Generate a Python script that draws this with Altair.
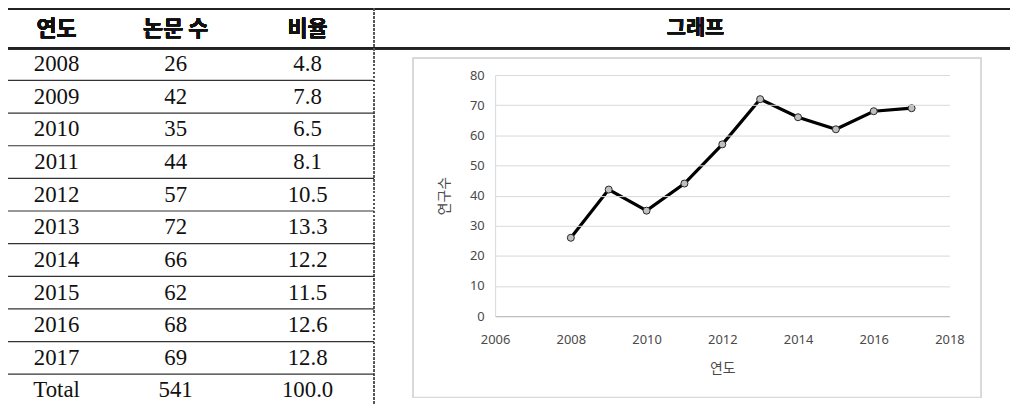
import altair as alt
import pandas as pd

# ---- data ----
years = [2008, 2009, 2010, 2011, 2012, 2013, 2014, 2015, 2016, 2017]
counts = [26, 42, 35, 44, 57, 72, 66, 62, 68, 69]
ratios = [4.8, 7.8, 6.5, 8.1, 10.5, 13.3, 12.2, 11.5, 12.6, 12.8]
total_label = "Total"
total_count = 541
total_ratio = 100.0
headers = ["연도", "논문 수", "비율"]
graph_header = "그래프"
x_ticks = [2006, 2008, 2010, 2012, 2014, 2016, 2018]
y_ticks = [0, 10, 20, 30, 40, 50, 60, 70, 80]

row_labels = [str(y) for y in years] + [total_label]
table = pd.DataFrame({
    "row": row_labels,
    "year_txt": row_labels,
    "count_txt": [str(c) for c in counts] + [str(total_count)],
    "ratio_txt": [f"{r:.1f}" for r in ratios] + [f"{total_ratio:.1f}"],
})
series = pd.DataFrame({"year": years, "count": counts})

# plot area sits at page (499, 74); everything else is relative to it
def px(x):
    return x - 499

def py(y):
    return y - 74

KR = "Noto Sans CJK KR"
SERIF = "Liberation Serif"

row_scale = alt.Scale(type="point", domain=row_labels, range=[py(63), py(392)], padding=0)

base_tab = alt.Chart(table)

# decorations
box = alt.Chart(series).mark_rect(filled=False, fillOpacity=0, stroke="#d9d9d9", strokeWidth=1).encode(
    x=alt.value(px(416)), x2=alt.value(px(989)), y=alt.value(py(57)), y2=alt.value(py(399))
)
top_line = alt.Chart(series).mark_rule(color="#222", strokeWidth=2).encode(
    x=alt.value(px(7)), x2=alt.value(px(1030)), y=alt.value(py(7))
)
head_line = alt.Chart(series).mark_rule(color="#222", strokeWidth=2).encode(
    x=alt.value(px(7)), x2=alt.value(px(1030)), y=alt.value(py(47))
)
vline = alt.Chart(series).mark_rule(color="#555", strokeWidth=1.5, strokeDash=[2, 2]).encode(
    x=alt.value(px(377)), y=alt.value(py(7)), y2=alt.value(py(420))
)

# table row separators
row_rules = base_tab.transform_filter(alt.datum.row != total_label).mark_rule(
    color="#333", strokeWidth=1.2, yOffset=16.45
).encode(
    y=alt.Y("row:N", scale=row_scale, axis=None),
    x=alt.value(px(7)), x2=alt.value(px(377)),
)

# header texts
hdr_layers = []
for h, xc in zip(headers, [57, 177, 310]):
    hdr_layers.append(
        alt.Chart(series).mark_text(font=KR, fontSize=22, fontWeight="bold", color="#111", baseline="middle", align="center").encode(
            x=alt.value(px(xc)), y=alt.value(py(28)), text=alt.value(h)
        )
    )
graph_hdr = alt.Chart(series).mark_text(font=KR, fontSize=21, fontWeight="bold", color="#111", baseline="middle", align="center").encode(
    x=alt.value(px(701)), y=alt.value(py(28)), text=alt.value(graph_header)
)

# table cells
cell_layers = []
for col, xc in zip(["year_txt", "count_txt", "ratio_txt"], [57, 177, 310]):
    cell_layers.append(
        base_tab.mark_text(font=SERIF, fontSize=23, color="#111", baseline="middle", align="center").encode(
            y=alt.Y("row:N", scale=row_scale, axis=None),
            x=alt.value(px(xc)),
            text=f"{col}:N",
        )
    )

# line chart
xs = alt.Scale(domain=[2006, 2018], nice=False, zero=False)
ys = alt.Scale(domain=[0, 80], nice=False)
axis_common = dict(labelFont="Noto Sans", labelFontSize=13, labelColor="#4a4a4a",
                   titleFont=KR, titleFontSize=14, titleColor="#4a4a4a", titleFontWeight="normal",
                   ticks=False, zindex=1, labelFlush=False, labelOverlap=False)
line = alt.Chart(series).mark_line(color="#000", strokeWidth=3.2).encode(
    x=alt.X("year:Q", scale=xs, axis=alt.Axis(values=x_ticks, format="d", title="연도", grid=False,
                                              domainColor="#bfbfbf", domainWidth=1.5,
                                              labelPadding=18, titlePadding=15, **axis_common)),
    y=alt.Y("count:Q", scale=ys, axis=alt.Axis(values=y_ticks, title="연구수", grid=True,
                                               gridColor="#d9d9d9", gridWidth=1,
                                               domainColor="#d9d9d9", labelPadding=11,
                                               titlePadding=18, **axis_common)),
)
pts = alt.Chart(series).mark_point(filled=True, fill="#c0c0c0", stroke="#262626", strokeWidth=1, size=50, opacity=1).encode(
    x=alt.X("year:Q", scale=xs, axis=None),
    y=alt.Y("count:Q", scale=ys, axis=None),
)

chart = alt.layer(
    box, top_line, head_line, vline, row_rules, *hdr_layers, graph_hdr, *cell_layers, line, pts
).resolve_scale(x="independent", y="independent").properties(
    width=458, height=243,
    padding={"left": 491, "top": 66, "right": 61, "bottom": 88},
    autosize=alt.AutoSizeParams(type="none"),
    background="white",
).configure_view(stroke=None)

chart.save("out.html", embed_options={"renderer": "svg", "actions": False})
